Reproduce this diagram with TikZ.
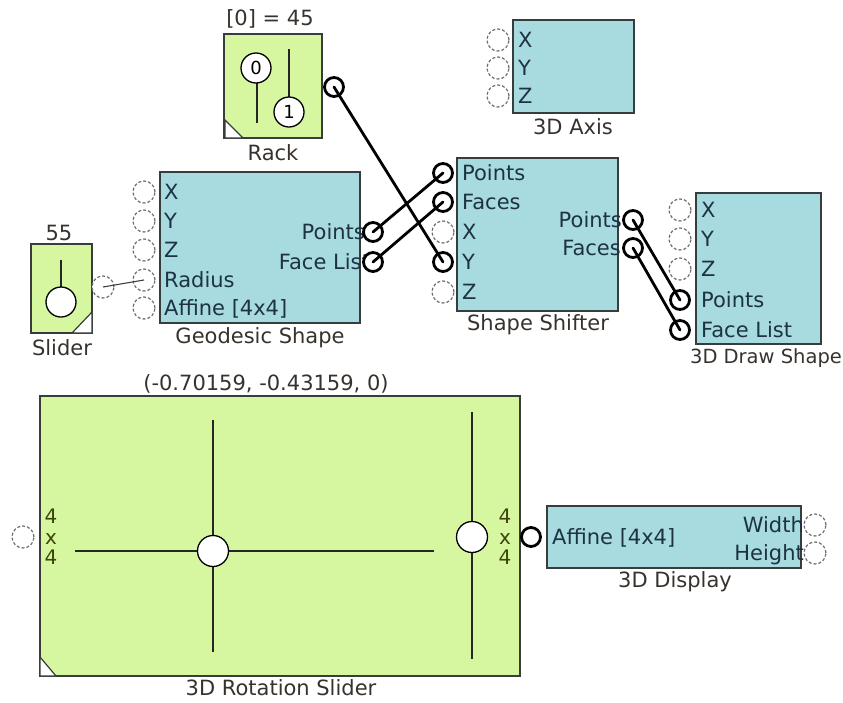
\documentclass[tikz,border=0pt]{standalone}
\usepackage{fontspec}
\setmainfont{DejaVu Sans}
\definecolor{gfill}{RGB}{214,247,160}
\definecolor{bfill}{RGB}{167,219,223}
\definecolor{edge}{RGB}{55,60,60}
\definecolor{porttext}{RGB}{30,50,70}
\definecolor{captext}{RGB}{55,50,45}
\definecolor{olivetext}{RGB}{60,70,10}
\definecolor{portgray}{RGB}{110,110,110}
\begin{document}
\begin{tikzpicture}[x=1pt,y=-1pt,
  font=\fontsize{21}{24}\selectfont,
  box/.style={draw=edge, line width=1.5pt, inner sep=0pt, outer sep=0pt},
  gbox/.style={box, fill=gfill},
  bbox/.style={box, fill=bfill},
  port/.style={circle, draw=portgray, line width=1.2pt, densely dashed, fill=white, minimum size=22pt, inner sep=0pt},
  cport/.style={circle, draw=black, line width=2.8pt, fill=white, minimum size=19pt, inner sep=0pt},
  wire/.style={line width=2.8pt, draw=black, line cap=round},
  thinwire/.style={line width=1.1pt, draw=black!75},
  ptxt/.style={inner sep=0pt, text=porttext, text height=15pt, text depth=0pt},
  gtxt/.style={inner sep=0pt, text=olivetext, align=center, font=\fontsize{20}{20.5}\selectfont},
  captxt/.style={inner sep=0pt, text=captext},
  knob/.style={circle, draw=black, line width=1.3pt, fill=white, inner sep=0pt},
  bar/.style={line width=2pt, draw=black!85},
  corner/.style={draw=edge, line width=1.2pt, fill=white}
]
\useasboundingbox (0,0) rectangle (843,702);

% ---------------- Rack ----------------
\node[gbox, minimum width=98pt, minimum height=104pt] (rack) at (273,86) {};
\filldraw[corner] (225,120) -- (243,138) -- (225,138) -- cycle;
\draw[bar] (257,82) -- (257,123);
\draw[bar] (289,49) -- (289,98);
\node[knob, minimum size=30pt, font=\fontsize{18}{20}\selectfont] (k0) at (256,68) {0};
\node[knob, minimum size=30pt, font=\fontsize{18}{20}\selectfont] (k1) at (289,112) {1};
\node[cport] (rackout) at (334,87) {};
\node[captxt] (rackval) at (270,19) {[0] = 45};
\node[captxt] (racklbl) at (273,153) {Rack};

% ---------------- Slider ----------------
\node[gbox, minimum width=61pt, minimum height=89pt] (slider) at (61.5,288.5) {};
\filldraw[corner] (92,312) -- (92,333) -- (72,333) -- cycle;
\draw[bar] (61,260) -- (61,287);
\node[knob, minimum size=30pt] (sknob) at (61,302) {};
\node[port] (sliderout) at (103,287) {};
\node[captxt] (sliderval) at (59,233) {55};
\node[captxt] (sliderlbl) at (62,348) {Slider};

% ---------------- Geodesic Shape ----------------
\node[bbox, minimum width=200pt, minimum height=151pt] (geo) at (260,247.5) {};
\node[port] (geoX) at (144,192) {};
\node[port] (geoY) at (144,221) {};
\node[port] (geoZ) at (144,250) {};
\node[port] (geoR) at (144,280) {};
\node[port] (geoA) at (144,308) {};
\node[ptxt, anchor=west] (geoXt) at (164,192) {X};
\node[ptxt, anchor=west] (geoYt) at (164,221) {Y};
\node[ptxt, anchor=west] (geoZt) at (164,250) {Z};
\node[ptxt, anchor=west] (geoRt) at (164,280) {Radius};
\node[ptxt, anchor=west] (geoAt) at (164,308) {Affine [4x4]};
\node[ptxt, anchor=east] (geoPt) at (365,232) {Points};
\node[ptxt, anchor=east] (geoFt) at (370,262) {Face List};
\node[cport] (geoP) at (373,232) {};
\node[cport] (geoF) at (373,262) {};
\node[captxt] (geolbl) at (260,338) {Geodesic Shape};

% ---------------- 3D Axis ----------------
\node[bbox, minimum width=121pt, minimum height=93pt] (axis) at (573.5,66.5) {};
\node[port] (axX) at (498,40) {};
\node[port] (axY) at (498,68) {};
\node[port] (axZ) at (498,96) {};
\node[ptxt, anchor=west] (axXt) at (518,40) {X};
\node[ptxt, anchor=west] (axYt) at (518,68) {Y};
\node[ptxt, anchor=west] (axZt) at (518,96) {Z};
\node[captxt] (axlbl) at (573,127) {3D Axis};

% ---------------- Shape Shifter ----------------
\node[bbox, minimum width=161pt, minimum height=153pt] (sh) at (537.5,234.5) {};
\node[cport] (shP) at (443,173) {};
\node[cport] (shF) at (443,202) {};
\node[port] (shX) at (443,232) {};
\node[cport] (shY) at (443,262) {};
\node[port] (shZ) at (443,292) {};
\node[ptxt, anchor=west] (shPt) at (462,173) {Points};
\node[ptxt, anchor=west] (shFt) at (462,202) {Faces};
\node[ptxt, anchor=west] (shXt) at (462,232) {X};
\node[ptxt, anchor=west] (shYt) at (462,262) {Y};
\node[ptxt, anchor=west] (shZt) at (462,292) {Z};
\node[ptxt, anchor=east] (shoPt) at (622,220) {Points};
\node[ptxt, anchor=east] (shoFt) at (621,248) {Faces};
\node[cport] (shoP) at (633,220) {};
\node[cport] (shoF) at (633,248) {};
\node[captxt] (shlbl) at (538,325) {Shape Shifter};

% ---------------- 3D Draw Shape ----------------
\node[bbox, minimum width=125pt, minimum height=151pt] (dr) at (758.5,268.5) {};
\node[port] (drX) at (680,210) {};
\node[port] (drY) at (680,239) {};
\node[port] (drZ) at (680,269) {};
\node[cport] (drP) at (680,300) {};
\node[cport] (drF) at (680,330) {};
\node[ptxt, anchor=west] (drXt) at (701,210) {X};
\node[ptxt, anchor=west] (drYt) at (701,239) {Y};
\node[ptxt, anchor=west] (drZt) at (701,269) {Z};
\node[ptxt, anchor=west] (drPt) at (701,300) {Points};
\node[ptxt, anchor=west] (drFt) at (701,330) {Face List};
\node[captxt, font=\fontsize{19.5}{22}\selectfont] (drlbl) at (766,358) {3D Draw Shape};

% ---------------- 3D Rotation Slider ----------------
\node[gbox, minimum width=480pt, minimum height=280pt] (rot) at (280,536) {};
\filldraw[corner] (40,657) -- (56,676) -- (40,676) -- cycle;
\draw[bar] (75,551) -- (434,551);
\draw[bar] (213,420) -- (213,652);
\draw[bar] (472,412) -- (472,659);
\node[knob, minimum size=31pt] (rk1) at (213,551) {};
\node[knob, minimum size=31pt] (rk2) at (472,537) {};
\node[port] (rotin) at (23,537) {};
\node[gtxt] (rl) at (51,537) {4\\x\\4};
\node[gtxt] (rr) at (505,537) {4\\x\\4};
\node[captxt] (rotval) at (266,384) {(-0.70159, -0.43159, 0)};
\node[captxt] (rotlbl) at (281,688) {3D Rotation Slider};

% ---------------- 3D Display ----------------
\node[bbox, minimum width=254pt, minimum height=62pt] (disp) at (674,537) {};
\node[cport] (dispin) at (531,537) {};
\node[ptxt, anchor=west] (dispAt) at (552,537) {Affine [4x4]};
\node[ptxt, anchor=east] (dispWt) at (804,525) {Width};
\node[ptxt, anchor=east] (dispHt) at (804,553) {Height};
\node[port] (dispW) at (815,525) {};
\node[port] (dispH) at (815,553) {};
\node[captxt] (displbl) at (675,582) {3D Display};

% ---------------- Connections ----------------
\draw[thinwire] (sliderout.center) -- (geoR.center);
\draw[wire] (rackout.center) -- (shY.center);
\draw[wire] (geoP.center) -- (shP.center);
\draw[wire] (geoF.center) -- (shF.center);
\draw[wire] (shoP.center) -- (drP.center);
\draw[wire] (shoF.center) -- (drF.center);
\end{tikzpicture}
\end{document}
